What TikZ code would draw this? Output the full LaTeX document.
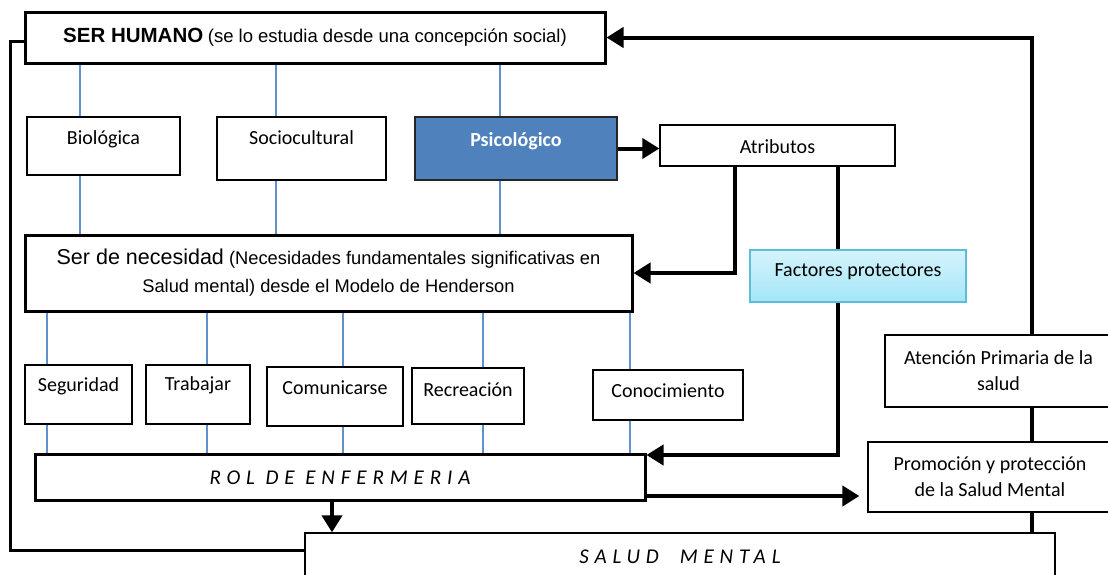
\documentclass[tikz,border=0pt]{standalone}
\usepackage{fontspec}
\setmainfont{Carlito}
\newfontfamily\arialfont{Liberation Sans}
\newfontfamily\spacedfont[LetterSpace=28]{Carlito}
\usetikzlibrary{arrows.meta}
\definecolor{linkblue}{RGB}{95,145,205}
\definecolor{psiblue}{RGB}{79,129,189}
\definecolor{facedge}{RGB}{91,190,215}
\definecolor{factop}{RGB}{214,244,252}
\definecolor{facbot}{RGB}{163,229,248}
\begin{document}
\begin{tikzpicture}[x=1pt,y=-1pt,
	box/.style={draw, line width=1.3pt, align=center, inner sep=0pt, font=\fontsize{20}{26}\selectfont},
	heavy/.style={box, line width=3pt},
	txtup/.style={text height=15pt, text depth=#1},
	link/.style={linkblue, line width=1.2pt},
	flow/.style={line width=4pt},
	flowarrow/.style={flow, -{Triangle[length=17pt,width=20pt]}}]
		\useasboundingbox (0,0) rectangle (1108,574);
		\node[heavy, minimum width=580, minimum height=51] (hum) at (315,37.5) {{\arialfont\fontsize{20.5}{24}\selectfont\bfseries SER HUMANO} {\arialfont\fontsize{18.5}{20}\selectfont (se lo estudia desde una concepción social)}};
		\node[box, minimum width=153, minimum height=58, txtup=18pt] (bio) at (103.5,146) {Biológica};
		\node[box, minimum width=169, minimum height=63, txtup=23pt] (soc) at (301.5,148.5) {Sociocultural};
		\node[box, fill=psiblue, draw=black!85, text=white, minimum width=202, minimum height=63, txtup=19pt, font=\fontsize{20}{26}\selectfont\bfseries] (psi) at (516,148.5) {Psicológico};
		\node[box, minimum width=235, minimum height=41, txtup=0pt] (atr) at (777.5,145.5) {Atributos};
		\node[heavy, minimum width=607, minimum height=76, font=\arialfont\fontsize{18.3}{28}\selectfont] (nec) at (328.5,273) {{\fontsize{21.5}{28}\selectfont Ser de necesidad} (Necesidades fundamentales significativas en\\Salud mental) desde el Modelo de Henderson};
		\node[box, draw=facedge, top color=factop, bottom color=facbot, minimum width=216, minimum height=52, txtup=14pt] (fac) at (858,276) {Factores protectores};
		\node[box, minimum width=107, minimum height=59, txtup=21pt] (seg) at (78.5,394.5) {Seguridad};
		\node[box, minimum width=104, minimum height=59, txtup=23pt] (tra) at (198,394.5) {Trabajar};
		\node[box, minimum width=136, minimum height=59, txtup=19pt] (com) at (335,396.5) {Comunicarse};
		\node[box, minimum width=112, minimum height=56, txtup=14pt] (rec) at (468,396) {Recreación};
		\node[box, minimum width=150, minimum height=50, txtup=10pt] (con) at (668,395) {Conocimiento};
		\node[box, minimum width=227, minimum height=72] (aps) at (998.5,371) {Atención Primaria de la\\salud};
		\node[box, minimum width=244, minimum height=70] (pro) at (990,477) {Promoción y protección\\de la Salud Mental};
		\node[heavy, minimum width=610, minimum height=46, font=\spacedfont\itshape\fontsize{21}{24}\selectfont] (rol) at (340,477.5) {ROL DE ENFERMERIA};
		\node[box, minimum width=750, minimum height=47, font=\spacedfont\itshape\fontsize{21}{24}\selectfont] (sal) at (680,556.5) {SALUD\quad MENTAL};
		\draw[link] ([xshift=-23.5]bio.north) -- ([xshift=-23.5]bio.north |- hum.south)
		([xshift=-23.5]bio.south) -- ([xshift=-23.5]bio.south |- nec.north)
		([xshift=-25.5]soc.north) -- ([xshift=-25.5]soc.north |- hum.south)
		([xshift=-25.5]soc.south) -- ([xshift=-25.5]soc.south |- nec.north)
		([xshift=-16]psi.north) -- ([xshift=-16]psi.north |- hum.south)
		([xshift=-16]psi.south) -- ([xshift=-16]psi.south |- nec.north);
		\draw[link] ([xshift=-31.5]seg.north) -- ([xshift=-31.5]seg.north |- nec.south)
		([xshift=-31.5]seg.south) -- ([xshift=-31.5]seg.south |- rol.north)
		([xshift=9]tra.north) -- ([xshift=9]tra.north |- nec.south)
		([xshift=9]tra.south) -- ([xshift=9]tra.south |- rol.north)
		([xshift=8]com.north) -- ([xshift=8]com.north |- nec.south)
		([xshift=8]com.south) -- ([xshift=8]com.south |- rol.north)
		([xshift=15]rec.north) -- ([xshift=15]rec.north |- nec.south)
		([xshift=15]rec.south) -- ([xshift=15]rec.south |- rol.north)
		([xshift=-38]con.north) -- ([xshift=-38]con.north |- nec.south)
		([xshift=-38]con.south) -- ([xshift=-38]con.south |- rol.north);
		\draw[flowarrow] (psi.east) -- (psi.east -| atr.west);
		\draw[flowarrow] ([xshift=-42.5]atr.south) |- (nec.east);
		\draw[flow] ([xshift=60.5]atr.south) -- ([xshift=60.5]atr.south |- fac.north);
		\draw[flowarrow] ([xshift=-20]fac.south) |- ([yshift=22.5]rol.east);
		\draw[flowarrow, shorten >=8pt] ([yshift=-18.5]rol.east) -- ([yshift=-18.5]rol.east -| pro.west);
		\draw[flowarrow] ([xshift=-8]rol.south) -- ([xshift=-8]rol.south |- sal.north);
		\draw[flow] ([xshift=42]pro.south) -- ([xshift=42]pro.south |- sal.north);
		\draw[flow] ([xshift=33.5]aps.south) -- ([xshift=33.5]aps.south |- pro.north);
		\draw[flowarrow] ([xshift=33.5]aps.north) |- (hum.east);
		\draw[flow, line width=3pt] ([yshift=-3.5]hum.west) -- ++(-13,0) |- ([yshift=6.5]sal.west);
	\end{tikzpicture}
\end{document}
